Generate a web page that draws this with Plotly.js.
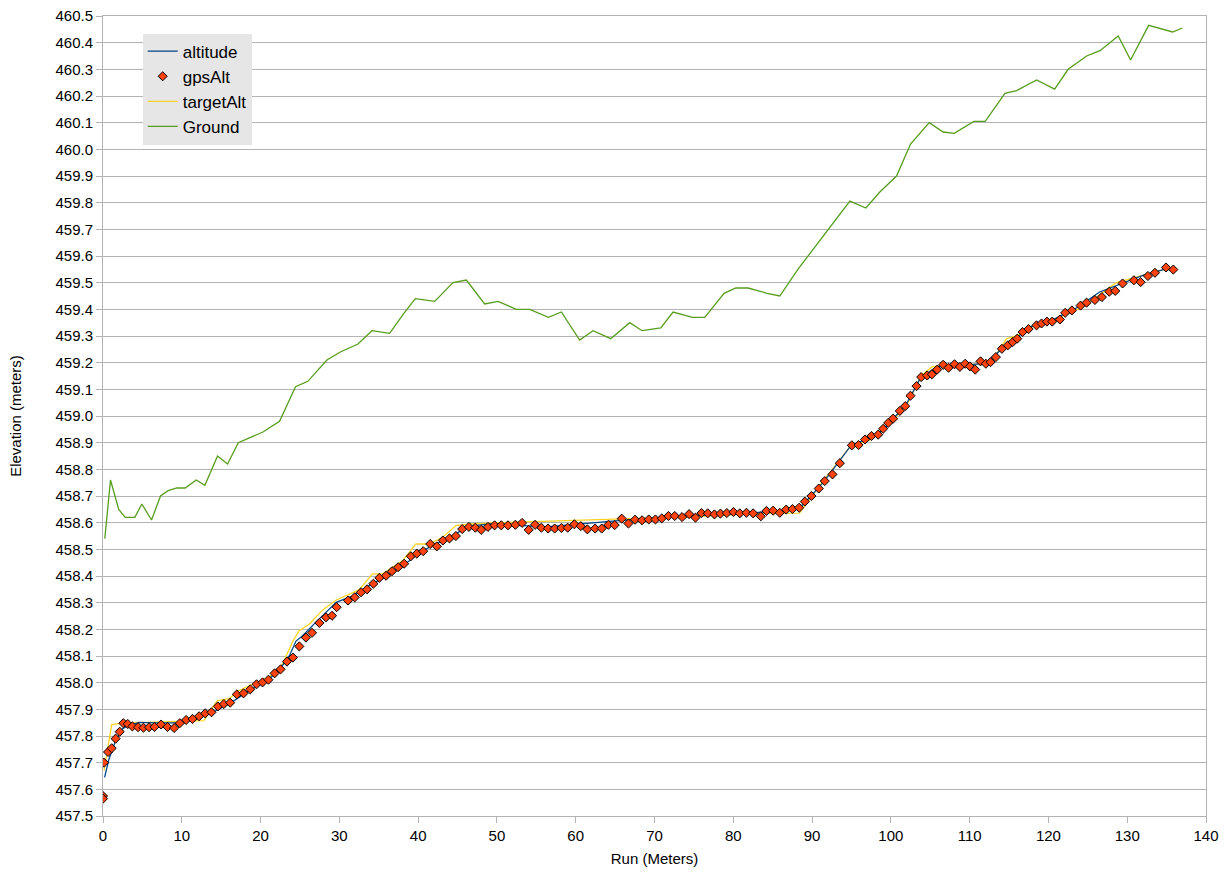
<!DOCTYPE html>
<html>
<head>
<meta charset="utf-8">
<script src="https://cdn.plot.ly/plotly-3.0.1.min.js"></script>
<style>
  html, body { margin: 0; padding: 0; background: #ffffff; }
  #chart { width: 1227px; height: 894px; }
</style>
</head>
<body>
<div id="chart"></div>
<script>
// ---- gpsAlt (markers) ----
const gpsX = [0, 0, 0.13, 0.64, 1.1, 1.6, 2.12, 2.58, 3.14, 3.73, 4.45, 5.13, 5.85, 6.53, 7.37, 8.18, 9.03, 9.75,
  10.55, 11.36, 12.2, 12.97, 13.77, 14.58, 15.34, 16.14, 16.99, 17.84, 18.69, 19.49, 20.25, 21.0, 21.78, 22.54,
  23.35, 24.11, 24.92, 25.76, 26.53, 27.46, 28.3, 29.07, 29.66, 31.1, 31.95, 32.75, 33.52, 34.32, 35.08, 35.93,
  36.69, 37.46, 38.22, 39.07, 39.83, 40.64, 41.53, 42.37, 43.14, 43.98, 44.79, 45.59, 46.44, 47.25, 48.0, 48.86,
  49.7, 50.55, 51.4, 52.34, 53.19, 54.03, 54.84, 55.64, 56.49, 57.33, 58.18, 58.98, 59.83, 60.64, 61.48, 62.46,
  63.3, 64.15, 64.95, 65.84, 66.69, 67.53, 68.42, 69.27, 70.12, 70.92, 71.77, 72.57, 73.5, 74.39, 75.2, 75.96,
  76.76, 77.61, 78.37, 79.18, 80.02, 80.83, 81.67, 82.52, 83.49, 84.21, 85.06, 85.9, 86.71, 87.51, 88.36, 89.08,
  89.92, 90.85, 91.61, 92.59, 93.52, 95.05, 95.9, 96.72, 97.54, 98.39, 99.02, 99.66, 100.29, 101.14, 101.82,
  102.49, 103.26, 103.85, 104.61, 105.2, 105.88, 106.64, 107.32, 108.08, 108.76, 109.44, 110.03, 110.71, 111.38,
  112.06, 112.65, 113.33, 114.09, 114.85, 115.45, 116.04, 116.72, 117.48, 118.49, 119.13, 119.81, 120.48, 121.46,
  122.13, 122.98, 124.08, 124.84, 125.9, 126.79, 127.72, 128.48, 129.41, 130.85, 131.7, 132.63, 133.52, 134.92,
  135.85];
const gpsAlt = [457.575, 457.565, 457.70, 457.74, 457.754, 457.79, 457.816, 457.848, 457.845, 457.836, 457.833,
  457.831, 457.833, 457.834, 457.843, 457.834, 457.83, 457.848, 457.86, 457.864, 457.874, 457.885, 457.889,
  457.911, 457.92, 457.925, 457.956, 457.96, 457.975, 457.994, 458.001, 458.011, 458.035, 458.05, 458.079,
  458.094, 458.136, 458.169, 458.187, 458.224, 458.245, 458.251, 458.283, 458.308, 458.32, 458.339, 458.35,
  458.371, 458.393, 458.401, 458.418, 458.433, 458.446, 458.474, 458.484, 458.493, 458.52, 458.511, 458.533,
  458.541, 458.55, 458.576, 458.584, 458.581, 458.573, 458.584, 458.59, 458.59, 458.59, 458.592, 458.599,
  458.573, 458.592, 458.581, 458.578, 458.578, 458.58, 458.581, 458.594, 458.587, 458.575, 458.578, 458.578,
  458.592, 458.591, 458.615, 458.597, 458.611, 458.609, 458.612, 458.612, 458.616, 458.625, 458.625, 458.621,
  458.632, 458.619, 458.636, 458.635, 458.631, 458.634, 458.636, 458.64, 458.635, 458.637, 458.635, 458.624,
  458.644, 458.645, 458.637, 458.649, 458.651, 458.656, 458.679, 458.70, 458.728, 458.756, 458.781, 458.823,
  458.89, 458.891, 458.912, 458.925, 458.93, 458.952, 458.974, 458.99, 459.019, 459.037, 459.076, 459.112,
  459.146, 459.152, 459.156, 459.174, 459.192, 459.181, 459.194, 459.184, 459.196, 459.186, 459.174, 459.205,
  459.196, 459.202, 459.221, 459.252, 459.265, 459.277, 459.29, 459.315, 459.326, 459.34, 459.347, 459.354,
  459.354, 459.362, 459.387, 459.396, 459.414, 459.425, 459.435, 459.446, 459.466, 459.469, 459.497, 459.509,
  459.502, 459.525, 459.537, 459.557, 459.549];

// ---- altitude (blue line) ----
const altX = [0.2, 0.76, 1.6, 2.46, 3.1, 4.6, 6.7, 9.7, 13.05, 16.0, 18.56, 21.1, 22.6, 23.64, 24.5, 25.3, 27.0,
  29.6, 31.7, 33.8, 36.4, 38.9, 40.17, 42.3, 44.8, 46.1, 49.1, 56.3, 64.7, 73.2, 81.7, 88.0, 88.9, 91.4, 94.8,
  99.0, 102.0, 103.7, 105.8, 108.8, 111.7, 113.0, 114.3, 116.0, 117.7, 120.6, 123.6, 126.5, 129.5, 132.0, 134.6,
  135.8];
const altitude = [457.645, 457.714, 457.782, 457.826, 457.839, 457.851, 457.849, 457.849, 457.876, 457.92, 457.97,
  458.014, 458.057, 458.1, 458.156, 458.175, 458.226, 458.301, 458.326, 458.364, 458.407, 458.457, 458.489,
  458.52, 458.557, 458.585, 458.595, 458.584, 458.606, 458.625, 458.635, 458.65, 458.669, 458.75, 458.884,
  458.946, 459.046, 459.14, 459.184, 459.19, 459.196, 459.221, 459.259, 459.294, 459.334, 459.362, 459.406,
  459.465, 459.5, 459.527, 459.549, 459.549];

// ---- targetAlt (yellow line) ----
const tgtX = [0.13, 1.1, 2.46, 12.8, 14.5, 16.0, 17.1, 19.4, 21.1, 22.8, 24.1, 24.9, 26.2, 27.9, 29.6, 31.3, 32.5,
  34.2, 35.5, 38.05, 39.7, 41.4, 43.1, 44.8, 46.5, 51.6, 65.2, 74.0, 83.8, 88.4, 91.4, 94.8, 97.3, 100.3, 102.2,
  103.9, 105.2, 106.6, 112.6, 114.7, 116.0, 117.9, 121.0, 124.4, 128.6, 132.9, 134.6, 135.85];
const targetAlt = [457.67, 457.843, 457.848, 457.858, 457.933, 457.94, 457.968, 458.0, 458.02, 458.07, 458.156,
  458.195, 458.22, 458.273, 458.31, 458.333, 458.348, 458.408, 458.408, 458.458, 458.52, 458.52, 458.545, 458.589,
  458.595, 458.601, 458.615, 458.622, 458.635, 458.636, 458.756, 458.884, 458.909, 458.984, 459.052, 459.152,
  459.184, 459.19, 459.196, 459.29, 459.30, 459.334, 459.365, 459.409, 459.5, 459.534, 459.549, 459.549];

// ---- Ground (green line) ----
const groundX = [0.23, 0.95, 2.0, 2.82, 4.04, 4.93, 6.16, 7.3, 8.27, 9.37, 10.43, 11.83, 12.93, 14.54, 15.81,
  17.17, 20.3, 22.41, 24.44, 26.0, 28.42, 30.12, 32.36, 34.14, 36.38, 38.07, 39.64, 42.1, 44.42, 46.12, 48.44,
  50.14, 52.47, 54.16, 56.54, 58.18, 60.5, 62.2, 64.44, 66.86, 68.42, 70.8, 72.36, 74.8, 76.38, 78.83, 80.32,
  81.88, 84.3, 85.9, 88.2, 94.8, 96.83, 98.6, 100.72, 102.5, 104.87, 106.64, 108.04, 110.54, 111.98, 114.48,
  115.96, 118.5, 120.79, 122.5, 124.85, 126.54, 128.86, 130.43, 132.72, 135.77, 137.0];
const ground = [458.54, 458.76, 458.65, 458.62, 458.62, 458.67, 458.61, 458.70, 458.72, 458.73, 458.73, 458.76,
  458.74, 458.85, 458.82, 458.90, 458.94, 458.98, 459.11, 459.13, 459.21, 459.24, 459.27, 459.32, 459.31, 459.38,
  459.44, 459.43, 459.50, 459.51, 459.42, 459.43, 459.40, 459.40, 459.37, 459.39, 459.285, 459.32, 459.29, 459.35,
  459.32, 459.33, 459.39, 459.37, 459.37, 459.46, 459.48, 459.48, 459.46, 459.45, 459.55, 459.806, 459.78, 459.84,
  459.90, 460.02, 460.10, 460.065, 460.06, 460.105, 460.105, 460.21, 460.22, 460.26, 460.226, 460.30, 460.35,
  460.37, 460.425, 460.335, 460.465, 460.44, 460.455];

const seriesNames = ['altitude', 'gpsAlt', 'targetAlt', 'Ground'];
const xTickVals = [0, 10, 20, 30, 40, 50, 60, 70, 80, 90, 100, 110, 120, 130, 140];

const FONT = 'Liberation Sans, Arial, sans-serif';
const GRID = '#b3b3b3';

const traces = [
  { x: groundX, y: ground, name: seriesNames[3], type: 'scatter', mode: 'lines',
    line: { color: '#579d1c', width: 1.3 }, legendrank: 4 },
  { x: tgtX, y: targetAlt, name: seriesNames[2], type: 'scatter', mode: 'lines',
    line: { color: '#ffd320', width: 1.3 }, legendrank: 3 },
  { x: altX, y: altitude, name: seriesNames[0], type: 'scatter', mode: 'lines',
    line: { color: '#004586', width: 1.3 }, legendrank: 1 },
  { x: gpsX, y: gpsAlt, name: seriesNames[1], type: 'scatter', mode: 'markers',
    marker: { symbol: 'diamond', size: 7, color: '#ff420e', line: { color: '#000000', width: 1 } }, legendrank: 2 }
];

const layout = {
  width: 1227, height: 894,
  margin: { l: 103, r: 21, t: 16, b: 78 },
  paper_bgcolor: '#ffffff', plot_bgcolor: '#ffffff',
  font: { family: FONT, size: 15, color: '#000000' },
  showlegend: true,
  legend: {
    x: 0.036, y: 0.978, xanchor: 'left', yanchor: 'top',
    bgcolor: '#e6e6e6', borderwidth: 0,
    font: { family: FONT, size: 17, color: '#000000' },
    traceorder: 'normal', itemwidth: 30, tracegroupgap: 0
  },
  xaxis: {
    range: [0, 140], tickvals: xTickVals, ticktext: xTickVals.map(String),
    showgrid: false, zeroline: false,
    showline: true, linecolor: GRID, linewidth: 1, mirror: true,
    ticks: 'outside', ticklen: 6, tickcolor: GRID,
    tickfont: { family: FONT, size: 15, color: '#000000' },
    title: { text: 'Run (Meters)', font: { family: FONT, size: 15, color: '#000000' }, standoff: 10 }
  },
  yaxis: {
    range: [457.5, 460.5], dtick: 0.1, tick0: 457.5, tickformat: '.1f',
    showgrid: true, gridcolor: GRID, gridwidth: 1, zeroline: false,
    showline: true, linecolor: GRID, linewidth: 1, mirror: true,
    ticks: 'outside', ticklen: 6, tickcolor: GRID,
    tickfont: { family: FONT, size: 15, color: '#000000' },
    title: { text: 'Elevation (meters)', font: { family: FONT, size: 15, color: '#000000' }, standoff: 30 }
  }
};

Plotly.newPlot('chart', traces, layout, { displayModeBar: false, staticPlot: true });
</script>
</body>
</html>
